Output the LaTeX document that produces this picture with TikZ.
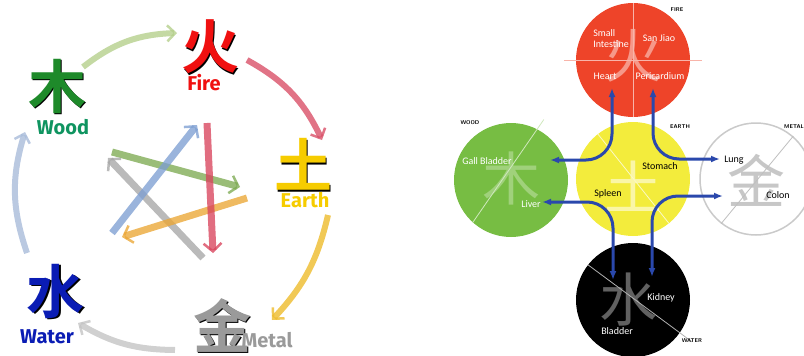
\documentclass[tikz,border=0pt]{standalone}
\usepackage{fontspec}
\setmainfont{Carlito}
\newfontfamily\cjk{Noto Sans CJK SC}[BoldFont={Noto Sans CJK SC Bold}]
\newfontfamily\lblfont{Fira Sans}
\usetikzlibrary{arrows.meta}
\definecolor{firered}{HTML}{F01010}
\definecolor{woodgreen}{HTML}{1E8A2A}
\definecolor{woodlbl}{HTML}{0F9460}
\definecolor{earthyellow}{HTML}{F6CC00}
\definecolor{metalgray}{HTML}{9A9A9A}
\definecolor{waterblue}{HTML}{0A1CB4}
\definecolor{brushlime}{HTML}{B5CF8C}
\definecolor{brushpink}{HTML}{D95068}
\definecolor{brushgold}{HTML}{EDBB2C}
\definecolor{brushgray}{HTML}{C4C4C4}
\definecolor{brushsky}{HTML}{A9BCDA}
\definecolor{starred}{HTML}{D8445C}
\definecolor{stargreen}{HTML}{7DAA52}
\definecolor{starorange}{HTML}{EBA634}
\definecolor{stargray}{HTML}{A6A6A6}
\definecolor{starblue}{HTML}{7E9FD2}
\definecolor{fcirc}{HTML}{EE4429}
\definecolor{wcirc}{HTML}{77BD43}
\definecolor{ecirc}{HTML}{F3EC3C}
\definecolor{mcirc}{HTML}{CACACA}
\definecolor{meridian}{HTML}{2A48AC}
\newcommand{\ELCHAR}[2]{\rlap{\hspace{1.8pt}\raisebox{-1.8pt}{\textcolor{black}{#2}}}\textcolor{#1}{#2}}
\tikzset{
  elchar/.style={inner sep=0pt,font=\cjk\bfseries\fontsize{58}{58}\selectfont},
  ellbl/.style={inner sep=0pt,font=\lblfont\bfseries\fontsize{20}{20}\selectfont},
  outerarrow/.style={line width=6pt,opacity=0.8,
    -{Straight Barb[length=8pt,width=16pt,line width=2.5pt]}},
  stararrow/.style={line width=7pt,opacity=0.78,
    -{Straight Barb[length=8pt,width=18pt,line width=2.5pt]}},
  organ/.style={circle,minimum size=114pt,inner sep=0pt},
  faintchar/.style={inner sep=0pt,font=\cjk\fontsize{58}{58}\selectfont},
  divline/.style={line width=0.8pt},
  organtxt/.style={inner sep=0pt,font=\fontsize{10}{11}\selectfont},
  tinylbl/.style={inner sep=0pt,font=\sffamily\bfseries\fontsize{5.5}{5.5}\selectfont},
  meridianarrow/.style={draw=meridian,line width=3pt,rounded corners=26pt,
    {Latex[length=9pt,width=7pt]}-{Latex[length=9pt,width=7pt]}}
}
\begin{document}
\begin{tikzpicture}[x=1pt,y=-1pt]
\useasboundingbox (0,0) rectangle (804,356);

%% the five elements, generating and controlling cycles
\node[elchar] (fire) at (210,48) {\ELCHAR{firered}{火}};
\node[ellbl,text=firered] (firelbl) at (204,83) {Fire};
\node[elchar] (wood) at (57,87) {\ELCHAR{woodgreen}{木}};
\node[ellbl,text=woodlbl] (woodlbl) at (63,127) {Wood};
\node[elchar] (earth) at (303,165) {\ELCHAR{earthyellow}{土}};
\node[ellbl,text=earthyellow] (earthlbl) at (305,200) {Earth};
\node[elchar] (metal) at (222,326) {\ELCHAR{metalgray}{金}};
\node[ellbl,text=metalgray] (metallbl) at (267,340) {Metal};
\node[elchar] (water) at (56,292) {\ELCHAR{waterblue}{水}};
\node[ellbl,text=waterblue] (waterlbl) at (47,337) {Water};

\coordinate (wf1) at (83,67);   \coordinate (wf2) at (177,33);
\coordinate (fe1) at (247,60);  \coordinate (fe2) at (322,140);
\coordinate (em1) at (328,215); \coordinate (em2) at (272,320);
\coordinate (mw1) at (175,350); \coordinate (mw2) at (78,323);
\coordinate (ww1) at (27,253);  \coordinate (ww2) at (25,132);

\draw[outerarrow,brushlime] (wf1) to[bend left=18] (wf2);
\draw[outerarrow,brushpink] (fe1) to[bend left=18] (fe2);
\draw[outerarrow,brushgold] (em1) to[bend left=15] (em2);
\draw[outerarrow,brushgray] (mw1) to[bend left=15] (mw2);
\draw[outerarrow,brushsky] (ww1) to[bend left=18] (ww2);

\coordinate (fm1) at (207,123); \coordinate (fm2) at (213,253);
\coordinate (we1) at (112,152); \coordinate (we2) at (240,187);
\coordinate (ew1) at (247,198); \coordinate (ew2) at (122,237);
\coordinate (mo1) at (203,258); \coordinate (mo2) at (108,158);
\coordinate (wa1) at (112,233); \coordinate (wa2) at (197,125);

\draw[stararrow,stargreen] (we1) -- (we2);
\draw[stararrow,stargray] (mo1) -- (mo2);
\draw[stararrow,starblue] (wa1) -- (wa2);
\draw[stararrow,starorange] (ew1) -- (ew2);
\draw[stararrow,starred] (fm1) -- (fm2);

%% organ circles
\node[organ,fill=fcirc] (firec) at (633,60) {};
\node[organ,fill=wcirc] (woodc) at (511,180) {};
\node[organ,fill=ecirc] (earthc) at (633,179) {};
\node[organ,fill=white,draw=mcirc,line width=1.5pt,minimum size=112pt] (metalc) at (756,179) {};
\node[organ,fill=black] (waterc) at (633,300) {};

\node[faintchar,text=fcirc!55!white] (firech) at (633,56) {火};
\node[faintchar,text=wcirc!70!white] (woodch) at (511,178) {木};
\node[faintchar,text=ecirc!45!white] (earthch) at (633,186) {土};
\node[faintchar,text=black!22] (metalch) at (756,180) {金};
\node[faintchar,text=black!62] (waterch) at (628,300) {水};

\draw[divline,fcirc!40!white] (firec.north) -- (firec.south);
\draw[divline,fcirc!40!white] (firec.west) ++(-12,0) -- ++(138,0);
\draw[divline,wcirc!35!white] (woodc.62) ++(6,-10) -- (woodc.228);
\draw[divline,ecirc!30!white] (earthc.128) -- (earthc.309);
\draw[divline,black!25] (metalc.49) -- (metalc.232);
\draw[divline,black!30] (waterc.142) -- (waterc.325) -- ++(12,9);

\node[organtxt,text=white,align=left] (smint) at (611,39) {Small\\Intestine};
\node[organtxt,text=white] (sanjiao) at (659,38) {San Jiao};
\node[organtxt,text=white] (heart) at (605,76) {Heart};
\node[organtxt,text=white] (pericard) at (660,76) {Pericardium};
\node[organtxt,text=white] (gallb) at (487,161) {Gall Bladder};
\node[organtxt,text=white] (liver) at (531,204) {Liver};
\node[organtxt] (stomach) at (660,166) {Stomach};
\node[organtxt] (spleen) at (608,194) {Spleen};
\node[organtxt] (lung) at (734,160) {Lung};
\node[organtxt] (colon) at (778,195) {Colon};
\node[organtxt,text=white] (kidney) at (661,298) {Kidney};
\node[organtxt,text=white] (bladder) at (617,331) {Bladder};

\node[tinylbl] (firetag) at (677,10) {FIRE};
\node[tinylbl] (woodtag) at (470,123) {WOOD};
\node[tinylbl] (earthtag) at (680,127) {EARTH};
\node[tinylbl,anchor=east] (metaltag) at (804,127) {METAL};
\node[tinylbl] (watertag) at (692,341) {WATER};

%% meridian connections
\coordinate (ht) at (612,88);  \coordinate (gb) at (550,160);
\coordinate (pc) at (653,88);  \coordinate (lu) at (720,159);
\coordinate (lv) at (542,202); \coordinate (bl) at (613,280);
\coordinate (kd) at (652,277); \coordinate (co) at (723,196);

\draw[meridianarrow] (gb) -| (ht);
\draw[meridianarrow] (pc) |- (lu);
\draw[meridianarrow] (lv) -| (bl);
\draw[meridianarrow] (kd) |- (co);

\end{tikzpicture}
\end{document}
